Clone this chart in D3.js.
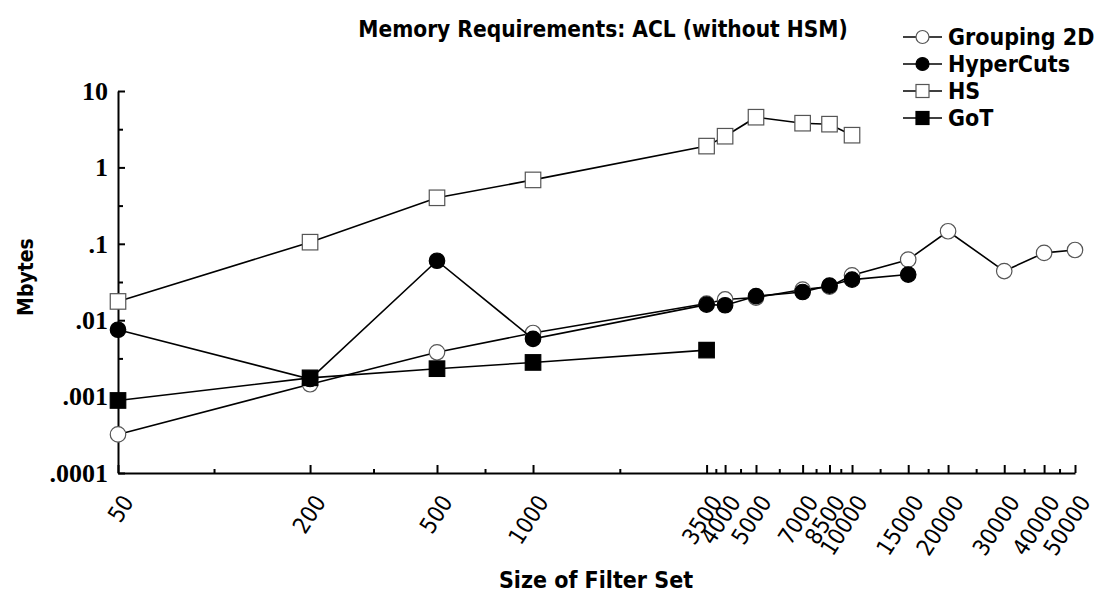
<!DOCTYPE html>
<html lang="en">

<head>
    <meta charset="UTF-8">
    <title>Memory Requirements: ACL (without HSM)</title>
    <script src="https://d3js.org/d3.v7.min.js"></script>
    <style>
        body { margin: 0; background: #fff; }
        text { font-family: "DejaVu Sans Condensed", "DejaVu Sans", sans-serif; font-stretch: condensed; fill: #000; }
        .axis path, .axis line { stroke: #000; }
        .ylab text { font-family: "Liberation Serif", serif; font-stretch: normal; font-weight: bold; font-size: 26px; }
        .xlab text { font-size: 23px; }
    </style>
</head>

<body>
    <svg width="1107" height="594"></svg>
    <script>
        // filter set sizes (x categories)
        var sizes = [50, 200, 500, 1000, 3500, 4000, 5000, 7000, 8500, 10000, 15000, 20000, 30000, 40000, 50000];
        var yTicks = [0.0001, 0.001, 0.01, 0.1, 1, 10];
        var yTickLabels = [".0001", ".001", ".01", ".1", "1", "10"];

        // Mbytes per series
        var grouping2D = [0.00032, 0.00145, 0.0038, 0.0068, 0.0165, 0.0187, 0.0198, 0.0252, 0.0275, 0.0387, 0.062, 0.146, 0.044, 0.076, 0.083];
        var hyperCuts = [0.0075, 0.0017, 0.06, 0.0057, 0.016, 0.0157, 0.0206, 0.0234, 0.0284, 0.034, 0.0396];
        var hs = [0.0176, 0.105, 0.40, 0.686, 1.9, 2.56, 4.54, 3.79, 3.68, 2.64];
        var got = [0.00089, 0.00176, 0.00232, 0.0028, 0.00406];

        var series = [
            { name: "Grouping 2D", values: grouping2D, shape: "circle", fill: "#fff" },
            { name: "HyperCuts", values: hyperCuts, shape: "circle", fill: "#000" },
            { name: "HS", values: hs, shape: "square", fill: "#fff" },
            { name: "GoT", values: got, shape: "square", fill: "#000" }
        ];

        var svg = d3.select("svg");

        var x = d3.scaleLog().domain([50, 50000]).range([118, 1075]),
            y = d3.scaleLog().domain([0.0001, 10]).range([473, 91]);

        // minor ticks sit halfway (on screen) between labelled ticks
        var xMinor = d3.pairs(sizes).map(function (p) { return Math.sqrt(p[0] * p[1]); });
        var yMinor = d3.pairs(yTicks).map(function (p) { return Math.sqrt(p[0] * p[1]); });

        // x axis
        svg.append("g")
            .attr("class", "axis")
            .attr("transform", "translate(0,473)")
            .call(d3.axisBottom(x).tickValues(xMinor).tickSize(-4).tickSizeOuter(0).tickFormat(""))
            .selectAll("path, line").attr("stroke-width", 2);

        var xAxis = svg.append("g")
            .attr("class", "axis xlab")
            .attr("transform", "translate(0,473)")
            .call(d3.axisBottom(x).tickValues(sizes).tickSize(-8).tickSizeOuter(0).tickFormat(d3.format("d")));
        xAxis.select(".domain").remove();
        xAxis.selectAll("line").attr("stroke-width", 2);
        xAxis.selectAll("text")
            .attr("y", 0)
            .attr("dy", 0)
            .attr("text-anchor", "end")
            .attr("transform", "translate(16,29) rotate(-57)");

        // y axis
        svg.append("g")
            .attr("class", "axis")
            .attr("transform", "translate(118,0)")
            .call(d3.axisLeft(y).tickValues(yMinor).tickSize(-5).tickSizeOuter(0).tickFormat(""))
            .selectAll("path, line").attr("stroke-width", 2);

        var yAxis = svg.append("g")
            .attr("class", "axis ylab")
            .attr("transform", "translate(118,0)")
            .call(d3.axisLeft(y).tickValues(yTicks).tickSize(-7).tickSizeOuter(0).tickPadding(10)
                .tickFormat(function (d, i) { return yTickLabels[i]; }));
        yAxis.select(".domain").remove();
        yAxis.selectAll("line").attr("stroke-width", 2);

        // titles
        svg.append("text")
            .attr("x", 603).attr("y", 37)
            .attr("text-anchor", "middle")
            .style("font-size", "22.5px").style("font-weight", "bold")
            .text("Memory Requirements: ACL (without HSM)");

        svg.append("text")
            .attr("x", 596).attr("y", 588)
            .attr("text-anchor", "middle")
            .style("font-size", "23px").style("font-weight", "bold")
            .text("Size of Filter Set");

        svg.append("text")
            .attr("transform", "translate(33,277) rotate(-90)")
            .attr("text-anchor", "middle")
            .style("font-size", "21px").style("font-weight", "bold")
            .text("Mbytes");

        function marker(sel, shape, fill, size) {
            if (shape === "circle") {
                sel.append("circle")
                    .attr("r", size / 2)
                    .attr("fill", fill)
                    .attr("stroke", fill === "#000" ? "#000" : "#555")
                    .attr("stroke-width", 1.2);
            } else {
                sel.append("rect")
                    .attr("x", -size / 2).attr("y", -size / 2)
                    .attr("width", size).attr("height", size)
                    .attr("fill", fill)
                    .attr("stroke", fill === "#000" ? "#000" : "#555")
                    .attr("stroke-width", 1.2);
            }
        }

        var line = d3.line()
            .x(function (d) { return x(d[0]); })
            .y(function (d) { return y(d[1]); });

        // series
        series.forEach(function (s) {
            var pts = s.values.map(function (v, i) { return [sizes[i], v]; });
            var g = svg.append("g");
            g.append("path")
                .datum(pts)
                .attr("fill", "none")
                .attr("stroke", "#000")
                .attr("stroke-width", 1.6)
                .attr("d", line);
            g.selectAll(".pt")
                .data(pts)
                .enter().append("g")
                .attr("class", "pt")
                .attr("transform", function (d) { return "translate(" + x(d[0]) + "," + y(d[1]) + ")"; })
                .each(function () { marker(d3.select(this), s.shape, s.fill, 15.5); });
        });

        // legend
        var legend = svg.append("g").attr("transform", "translate(903,37)");
        series.forEach(function (s, i) {
            var row = legend.append("g").attr("transform", "translate(0," + (i * 27) + ")");
            row.append("line")
                .attr("x1", 0).attr("x2", 39)
                .attr("stroke", "#000").attr("stroke-width", 1.6);
            var m = row.append("g").attr("transform", "translate(19.5,0)");
            marker(m, s.shape, s.fill, 13);
            row.append("text")
                .attr("x", 45).attr("dy", "0.36em")
                .style("font-size", "23px").style("font-weight", "bold")
                .text(s.name);
        });
    </script>
</body>

</html>
